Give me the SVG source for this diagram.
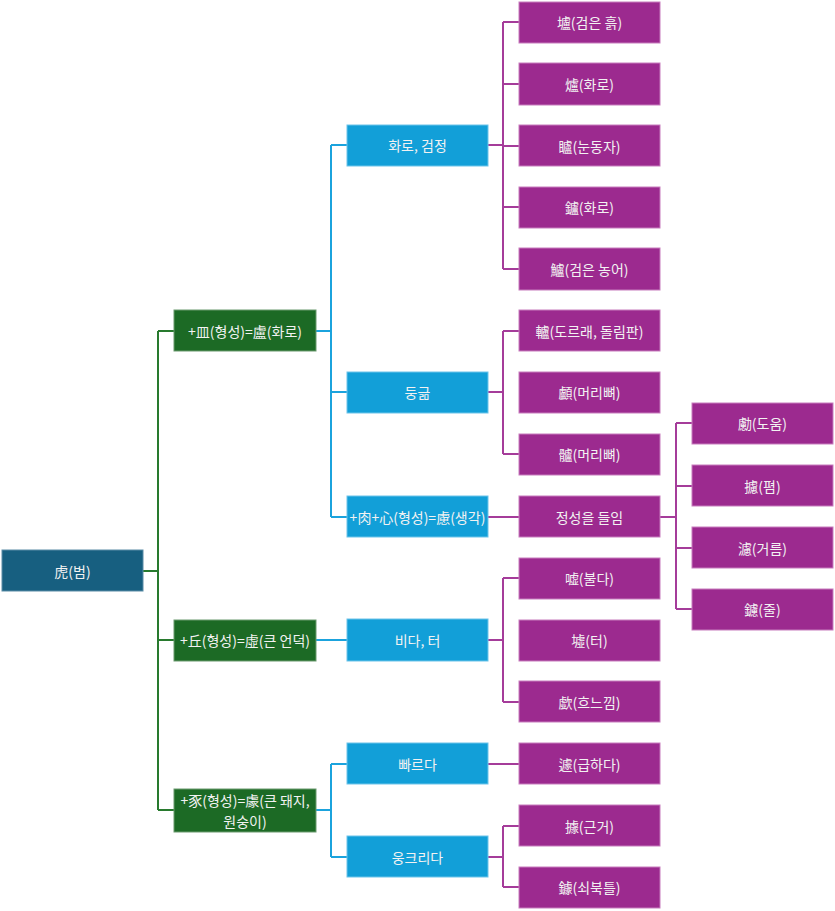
<svg xmlns="http://www.w3.org/2000/svg" width="835" height="911" viewBox="0 0 835 911">
<style>
.t{font-family:"Noto Sans CJK KR","Noto Sans",sans-serif;font-size:14px;fill:#f2f2f2;text-anchor:middle;dominant-baseline:central}
.r{fill:#175f80;stroke:#5a8ca6;stroke-width:1}
.g{fill:#1c6a25;stroke:#6a9a6e;stroke-width:1}
.b{fill:#129fd8;stroke:#6cc4ea;stroke-width:1}
.p{fill:#9c2a8f;stroke:#c77dbd;stroke-width:1}
.cg{fill:none;stroke:#287a2e;stroke-width:2}
.cb{fill:none;stroke:#1ba3dd;stroke-width:2}
.cp{fill:none;stroke:#a53c9a;stroke-width:2}
</style>
<rect width="835" height="911" fill="#ffffff"/>
<g id="connectors">
<path class="cg" d="M143 571H158M158 331V810M158 331H174M158 640H174M158 810H174"/>
<path class="cb" d="M316 331H331M331 145V517M331 145H347M331 392H347M331 517H347"/>
<path class="cb" d="M316 640H347"/>
<path class="cb" d="M316 810H331M331 764V857M331 764H347M331 857H347"/>
<path class="cp" d="M488 145H503M503 22V269M503 22H519M503 84H519M503 146H519M503 207H519M503 269H519"/>
<path class="cp" d="M488 392H503M503 331V454M503 331H519M503 454H519"/>
<path class="cp" d="M488 517H519"/>
<path class="cp" d="M488 640H503M503 578V702M503 578H519M503 702H519"/>
<path class="cp" d="M488 764H519"/>
<path class="cp" d="M488 857H503M503 826V887M503 826H519M503 887H519"/>
<path class="cp" d="M660 517H676M676 423V609M676 423H692M676 486H692M676 548H692M676 609H692"/>
</g>
<g id="n-root"><rect class="r" x="2" y="550" width="141" height="41"/><text class="t" x="72.5" y="571">虎(범)</text></g>
<g id="n-lu"><rect class="g" x="174" y="310" width="142" height="41"/><text class="t" x="245" y="331">+皿(형성)=盧(화로)</text></g>
<g id="n-heo"><rect class="g" x="174" y="620" width="142" height="41"/><text class="t" x="245" y="640">+丘(형성)=虛(큰 언덕)</text></g>
<g id="n-geo"><rect class="g" x="174" y="789" width="142" height="43"/><text class="t" x="245" y="800">+豕(형성)=豦(큰 돼지,</text><text class="t" x="245" y="821">원숭이)</text></g>
<g id="n-hwaro"><rect class="b" x="347" y="125" width="141" height="41"/><text class="t" x="417.5" y="145">화로, 검정</text></g>
<g id="n-dung"><rect class="b" x="347" y="372" width="141" height="41"/><text class="t" x="417.5" y="392">둥긂</text></g>
<g id="n-ryeo"><rect class="b" x="347" y="496" width="141" height="41"/><text class="t" x="417.5" y="517">+肉+心(형성)=慮(생각)</text></g>
<g id="n-bida"><rect class="b" x="347" y="619" width="141" height="42"/><text class="t" x="417.5" y="640">비다, 터</text></g>
<g id="n-ppa"><rect class="b" x="347" y="743" width="141" height="41"/><text class="t" x="417.5" y="764">빠르다</text></g>
<g id="n-ung"><rect class="b" x="347" y="836" width="141" height="41"/><text class="t" x="417.5" y="857">웅크리다</text></g>
<g id="n-p1"><rect class="p" x="519" y="2" width="141" height="41"/><text class="t" x="589.5" y="22">壚(검은 흙)</text></g>
<g id="n-p2"><rect class="p" x="519" y="63" width="141" height="42"/><text class="t" x="589.5" y="84">爐(화로)</text></g>
<g id="n-p3"><rect class="p" x="519" y="125" width="141" height="41"/><text class="t" x="589.5" y="146">矑(눈동자)</text></g>
<g id="n-p4"><rect class="p" x="519" y="187" width="141" height="41"/><text class="t" x="589.5" y="207">鑪(화로)</text></g>
<g id="n-p5"><rect class="p" x="519" y="248" width="141" height="42"/><text class="t" x="589.5" y="269">鱸(검은 농어)</text></g>
<g id="n-p6"><rect class="p" x="519" y="310" width="141" height="41"/><text class="t" x="589.5" y="331">轤(도르래, 돌림판)</text></g>
<g id="n-p7"><rect class="p" x="519" y="372" width="141" height="41"/><text class="t" x="589.5" y="392">顱(머리뼈)</text></g>
<g id="n-p8"><rect class="p" x="519" y="434" width="141" height="41"/><text class="t" x="589.5" y="454">髗(머리뼈)</text></g>
<g id="n-p9"><rect class="p" x="519" y="496" width="141" height="41"/><text class="t" x="589.5" y="517">정성을 들임</text></g>
<g id="n-p10"><rect class="p" x="519" y="558" width="141" height="41"/><text class="t" x="589.5" y="578">嘘(불다)</text></g>
<g id="n-p11"><rect class="p" x="519" y="620" width="141" height="41"/><text class="t" x="589.5" y="640">墟(터)</text></g>
<g id="n-p12"><rect class="p" x="519" y="681" width="141" height="41"/><text class="t" x="589.5" y="702">歔(흐느낌)</text></g>
<g id="n-p13"><rect class="p" x="519" y="743" width="141" height="41"/><text class="t" x="589.5" y="764">遽(급하다)</text></g>
<g id="n-p14"><rect class="p" x="519" y="805" width="141" height="41"/><text class="t" x="589.5" y="826">據(근거)</text></g>
<g id="n-p15"><rect class="p" x="519" y="867" width="141" height="41"/><text class="t" x="589.5" y="887">鐻(쇠북틀)</text></g>
<g id="n-q1"><rect class="p" x="692" y="403" width="141" height="41"/><text class="t" x="762.5" y="423">勴(도움)</text></g>
<g id="n-q2"><rect class="p" x="692" y="465" width="141" height="41"/><text class="t" x="762.5" y="486">攄(폄)</text></g>
<g id="n-q3"><rect class="p" x="692" y="527" width="141" height="41"/><text class="t" x="762.5" y="548">濾(거름)</text></g>
<g id="n-q4"><rect class="p" x="692" y="589" width="141" height="41"/><text class="t" x="762.5" y="609">鑢(줄)</text></g>
</svg>
